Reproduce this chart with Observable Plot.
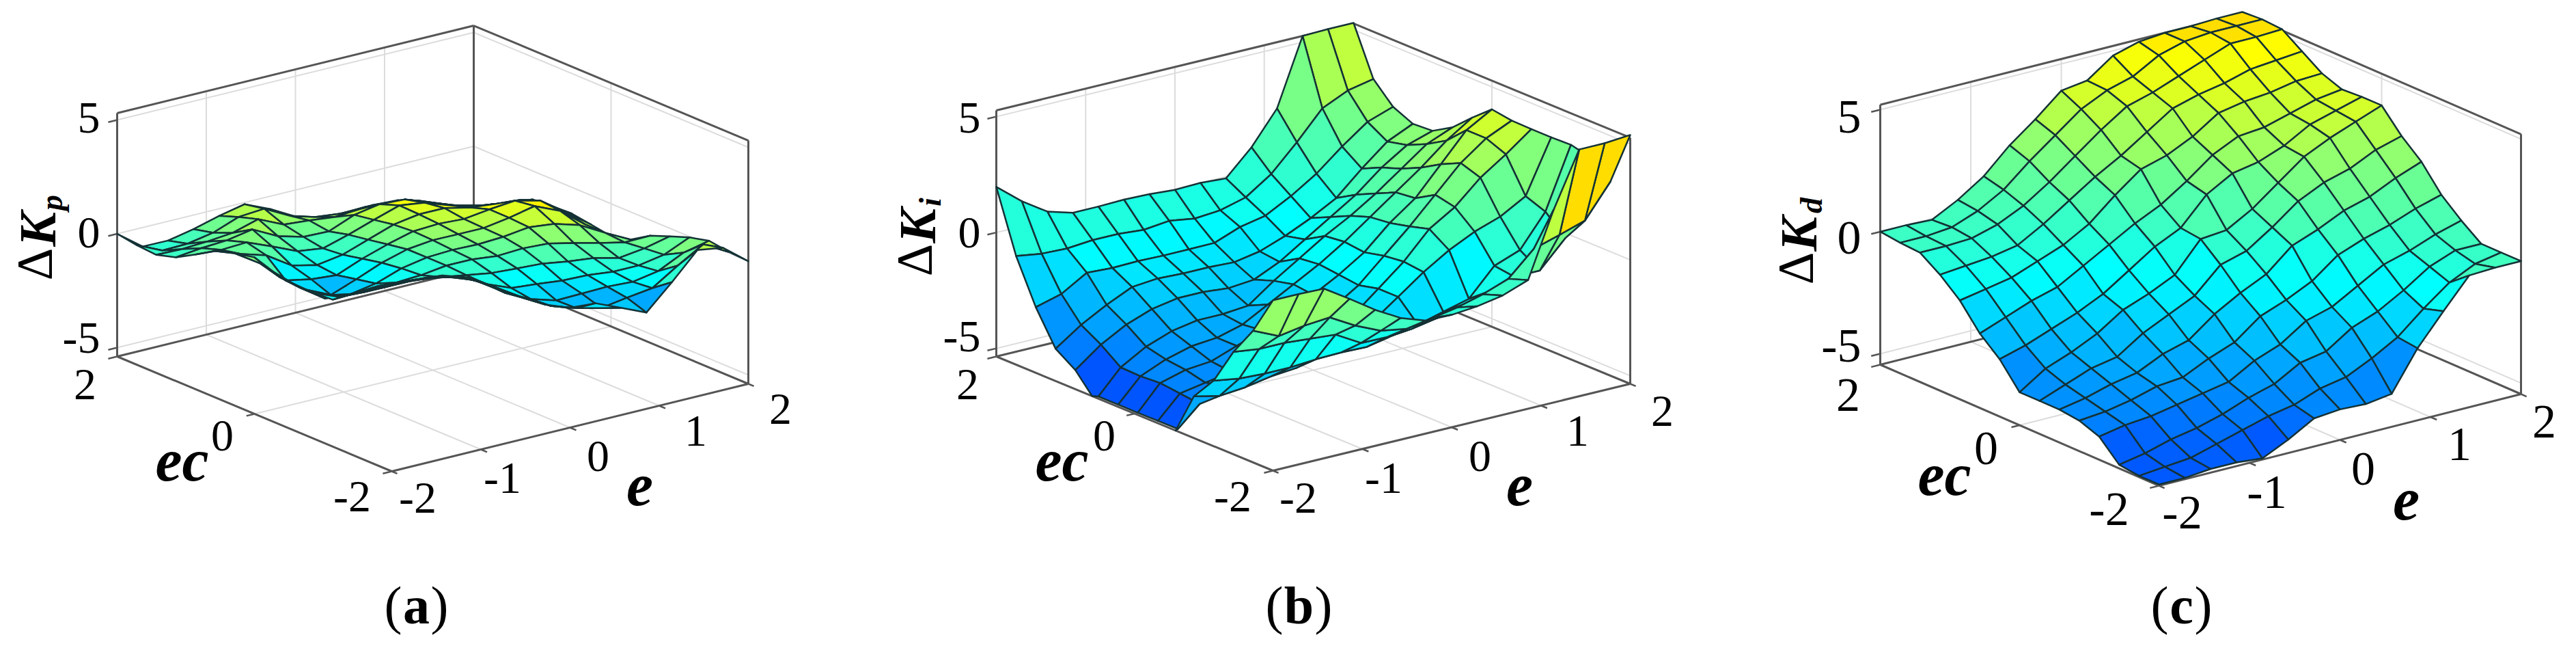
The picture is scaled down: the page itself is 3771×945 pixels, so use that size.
<!DOCTYPE html>
<html>
<head>
<meta charset="utf-8">
<style>html,body{margin:0;padding:0;background:#fff}svg{display:block}</style>
<script src="https://cdn.jsdelivr.net/npm/d3@7"></script>
<script src="https://cdn.jsdelivr.net/npm/@observablehq/plot@0.6"></script>
</head>
<body>
<script>
const eGrid = [-2,-1.714,-1.429,-1.143,-0.857,-0.571,-0.286,0,0.286,0.571,0.857,1.143,1.429,1.714,2];
const ecGrid = [-2,-1.714,-1.429,-1.143,-0.857,-0.571,-0.286,0,0.286,0.571,0.857,1.143,1.429,1.714,2];
const eTicks = [-2,-1,0,1,2];
const ecTicks = [-2,0,2];
const zTicks = [-5,0,5];

// rows run from ec = 2 (first) to ec = -2 (last); columns from e = -2 to e = 2
const kpRows = [
[0,-.64,-.46,-.04,.46,.89,.6,.19,.05,.19,.44,.57,.43,.21,0],
[-.33,-.65,-.43,-.03,.58,.86,.47,.33,.4,.62,.75,.73,.5,.26,.33],
[-.59,-.42,-.17,.13,.65,.33,.43,.5,.77,.93,1.0,.77,.54,.52,.58],
[-.53,-.21,.05,.45,.07,-.04,.12,.76,1.15,1.28,1.05,.85,.77,.8,.87],
[-.24,-.12,.13,-.13,-.42,-.38,.14,.71,1.26,1.3,1.1,.93,1.03,1.09,.71],
[.08,-.13,-.27,-.8,-.86,-.49,.09,.67,1.04,1.23,1.18,1.25,1.35,1.08,.58],
[.15,-.38,-1.21,-1.24,-1.14,-.5,.05,.54,.79,.92,1.26,1.56,1.48,.89,.26],
[.14,-.82,-1.44,-1.76,-1.15,-.51,0,.32,.5,.69,1.06,1.49,1.2,.51,-.08],
[-.35,-1.1,-1.66,-1.56,-1.17,-.59,-.19,.06,.22,.47,.81,.88,.74,.32,-.06],
[-.7,-1.29,-1.39,-1.16,-.97,-.72,-.38,-.19,-.12,.13,.26,.2,.12,.07,.28],
[-.92,-1.18,-1.05,-.84,-.68,-.64,-.63,-.62,-.5,-.37,-.36,-.29,-.37,-.03,.42],
[-1.05,-.8,-.68,-.49,-.39,-.44,-.85,-1.11,-1.02,-.95,-.79,-.72,-.53,-.14,.54],
[-.64,-.37,-.27,-.14,-.2,-.49,-1.08,-1.43,-1.57,-1.35,-1.13,-1.0,-.61,.12,.56],
[-.24,-.05,.05,.03,-.18,-.65,-1.15,-1.56,-1.74,-1.82,-1.45,-1.11,-.2,.65,.24],
[.14,.27,.35,.18,-.35,-.82,-1.25,-1.48,-1.36,-1.64,-1.93,-.68,.65,.67,0]
];
const kiRows = [
[1.97,1.08,.37,.05,.05,.08,.05,-.03,0,-.07,1.0,2.41,5.27,5.3,5.3],
[-.66,-.83,-.87,-.78,-.78,-.87,-.75,-.92,-.83,-.54,.2,1.3,2.5,3.0,3.23],
[-2.52,-2.22,-1.57,-1.63,-1.6,-1.63,-1.63,-1.62,-1.2,-.98,-.4,.3,1.2,2.0,2.38],
[-3.96,-3.2,-2.6,-2.1,-2.0,-2.05,-2.05,-2.1,-1.9,-1.5,-1.0,-.4,.6,1.5,2.0],
[-4.53,-3.7,-3.1,-2.7,-2.5,-2.5,-2.6,-2.5,-2.0,-1.3,-.6,.1,1.0,1.7,2.05],
[-5.5,-4.33,-3.7,-3.3,-3.1,-3.1,-3.0,-2.2,-1.5,-.8,-.2,.5,1.3,2.1,2.55],
[-5.5,-4.36,-3.9,-3.6,-3.5,-3.2,-2.6,-2.0,-1.4,-.7,.1,.9,1.7,2.6,3.32],
[-5.5,-4.3,-4.0,-3.9,-3.5,-3.1,-2.6,-2.1,-1.5,-.8,.2,1.0,2.2,3.4,4.03],
[-5.5,-4.4,-4.2,-4.0,-3.7,-3.5,-3.0,-2.3,-1.6,-.6,.4,1.5,2.6,3.4,3.9],
[-5.5,-4.5,-4.0,-3.8,-3.9,-3.4,-2.9,-2.3,-1.4,-.5,.64,1.32,2.32,3.06,3.88],
[-3.55,-3.8,-3.7,-3.5,-3.4,-3.1,-2.8,-2.2,-1.4,-.6,.08,.61,.99,1.61,3.88],
[-2.52,-2.7,-2.75,-2.75,-2.67,-2.64,-2.67,-2.45,-2.25,-1.96,-1.67,-.51,-.1,1.29,3.91],
[-.93,-1.07,-1.07,-1.16,-1.25,-1.88,-1.9,-1.8,-1.6,-1.3,-1.0,-.63,-.63,.5,3.7],
[.34,-.16,.02,.11,-.51,-1.0,-1.19,-1.0,-.8,-.5,-.1,.93,1.26,1.61,3.03],
[2.0,2.0,1.97,1.26,.52,-.1,-.48,-.5,-.4,-.2,.2,2.97,5.3,5.3,5.39]
];
const kdRows = [
[0,0,-.05,.5,1.2,2.2,3.0,3.9,4.05,4.8,5.1,5.2,5.2,5.25,5.25],
[-.1,-.1,0,.4,1.0,1.9,2.7,3.5,4.0,4.3,4.9,5.2,5.3,5.3,5.3],
[-.15,-.15,-.1,.2,.7,1.4,2.2,3.0,3.7,4.0,4.4,4.8,5.2,5.2,5.25],
[-.7,-.6,-.5,-.3,.3,1.0,1.7,2.3,3.0,3.7,4.0,4.2,4.5,4.6,4.7],
[-1.4,-1.2,-1,-.6,-.2,.4,1.3,2.1,2.4,2.9,3.6,3.8,3.9,4.1,4.15],
[-2.4,-2.0,-1.6,-1.3,-.7,-.1,.5,1.0,1.7,2.5,3.0,3.1,3.4,3.7,3.85],
[-3.1,-2.8,-2.4,-2,-1.5,-.8,-.1,.4,1.5,2.1,2.3,2.7,3.3,3.6,3.9],
[-4.1,-3.4,-3.0,-2.5,-1.8,-1.4,-.9,.3,.4,1.0,1.8,2.6,3.1,3.5,3.9],
[-4.1,-3.7,-3.3,-3.1,-2.4,-1.9,-1.4,-.4,-.1,.6,1.4,1.9,2.2,2.7,3.0],
[-4.1,-3.9,-3.6,-3.4,-2.9,-2.6,-1.8,-1.2,-.7,.2,.6,1.1,1.4,1.9,2.3],
[-4.2,-4.1,-3.9,-3.6,-3.5,-3.0,-2.6,-1.8,-1.4,-.9,-.1,.3,.6,1.0,1.3],
[-4.5,-4.3,-4.2,-4.0,-3.8,-3.6,-3.0,-2.6,-1.9,-1.6,-1.0,-.4,-.1,.3,.6],
[-5.3,-5.1,-4.8,-4.6,-4.3,-3.9,-3.6,-3.0,-2.8,-2.1,-1.7,-1.1,-.4,0,0],
[-5.4,-5.3,-5.2,-4.9,-4.6,-4.3,-4.1,-3.7,-3.5,-3.0,-2.4,-1.5,-.7,-.2,0],
[-5.4,-5.4,-5.3,-5.3,-5.4,-4.9,-4.3,-4.2,-4.25,-4.1,-2.5,-1.25,-.05,0,0]
];

const serif = "'Liberation Serif', serif";

// camera of each panel and where its lettering sits
const panels = [
 {key:"a", rows:kpRows, front:[573,689], eVec:[522,-128], ecVec:[-402,-168], k:33.3, zMin:-5.39, zMax:5.3, clipTop:5.3, tilt:2.7, cyan:-1.1, yellow:1.35,
  eLab:[[611,728],[735,699],[875,667],[1018,630],[1142,598]], ecLab:[[515,726],[325,637],[124,562]], zLab:[494,340,172], zAnchorX:146,
  sym:{d:[52,386],K:[56,335],s:[76,296],t:"p"}, ecName:[266,702], eName:[936,738], cap:[609,887], capHalf:21, digit:66},
 {key:"b", rows:kiRows, front:[1863,688], eVec:[523,-127], ecVec:[-405,-167], k:33.9, zMin:-5.35, zMax:5.27, clipTop:5.5, tilt:0, cyan:-1.5, yellow:4.5,
  eLab:[[1900,728],[2025,699],[2166,667],[2309,630],[2433,601]], ecLab:[[1804,726],[1616,637],[1416,562]], zLab:[492,340,172], zAnchorX:1435,
  sym:{d:[1340,380],K:[1344,330],s:[1362,295],t:"i"}, ecName:[1554,702], eName:[2224,738], cap:[1901,887], capHalf:23, digit:66},
 {key:"c", rows:kdRows, front:[3160,710], eVec:[530,-134], ecVec:[-408,-177], k:35.7, zMin:-5.45, zMax:5.2, clipTop:9, tilt:0, cyan:-1.5, yellow:4.5,
  eLab:[[3194,750],[3318,720],[3459,686],[3600,650],[3724,617]], ecLab:[[3087,745],[2907,656],[2705,578]], zLab:[506,348,171], zAnchorX:2724,
  sym:{d:[2630,392],K:[2634,342],s:[2652,300],t:"d"}, ecName:[2846,723], eName:[3522,759], cap:[3193,887], capHalf:19, digit:70}
];

function project(p, e, ec, z) {
  const u = (e + 2) / 4, v = (ec + 2) / 4;
  return [
    p.front[0] + u * p.eVec[0] + v * p.ecVec[0],
    p.front[1] + u * p.eVec[1] + v * p.ecVec[1] - (z - p.zMin) * p.k
  ];
}

function clipZ(poly, limit, keepBelow) {
  const inside = q => keepBelow ? q[2] <= limit : q[2] >= limit;
  const out = [];
  poly.forEach((a, n) => {
    const b = poly[(n + 1) % poly.length];
    if (inside(a)) out.push(a);
    if (inside(a) !== inside(b)) {
      const t = (limit - a[2]) / (b[2] - a[2]);
      out.push([a[0] + t * (b[0] - a[0]), a[1] + t * (b[1] - a[1]), limit]);
    }
  });
  return out;
}

const meshPts = [], links = [], gridLinks = [], tickLinks = [];
panels.forEach(p => {
  const P = (e, ec, z) => project(p, e, ec, z);
  const add = (arr, a, b) => arr.push({x1:a[0], y1:a[1], x2:b[0], y2:b[1]});
  zTicks.forEach(z => {
    add(gridLinks, P(-2,2,z), P(2,2,z));
    add(gridLinks, P(2,2,z), P(2,-2,z));
    add(tickLinks, P(-2,2,z), P(-2.1,2,z));
  });
  eTicks.slice(1,-1).forEach(e => {
    add(gridLinks, P(e,2,p.zMin), P(e,2,p.zMax));
    add(gridLinks, P(e,-2,p.zMin), P(e,2,p.zMin));
    add(tickLinks, P(e,-2,p.zMin), P(e,-2.09,p.zMin));
  });
  [0].forEach(ec => {
    add(gridLinks, P(2,ec,p.zMin), P(2,ec,p.zMax));
    add(gridLinks, P(-2,ec,p.zMin), P(2,ec,p.zMin));
    add(tickLinks, P(-2,ec,p.zMin), P(-2.09,ec,p.zMin));
  });
  [[-2,-2],[2,-2]].forEach(([e,ec]) => add(tickLinks, P(e,ec,p.zMin), P(e,ec-0.08,p.zMin)));
  add(tickLinks, P(-2,-2,p.zMin), P(-2.1,-2,p.zMin));
  add(tickLinks, P(-2,2,p.zMin), P(-2.1,2,p.zMin));
  const lo = p.zMin, hi = p.zMax;
  [[-2,2,lo,-2,2,hi],[2,2,lo,2,2,hi],[2,-2,lo,2,-2,hi],
   [-2,2,hi,2,2,hi],[2,2,hi,2,-2,hi],
   [-2,2,lo,2,2,lo],[2,2,lo,2,-2,lo],[-2,2,lo,-2,-2,lo],[-2,-2,lo,2,-2,lo]]
   .forEach(s => add(links, P(s[0],s[1],s[2]), P(s[3],s[4],s[5])));
  const node = (i, j) => p.rows[14 - j][i];
  const shown = (i, j) => node(i, j) - p.tilt * (i + j - 14) / 14;
  for (let j = 13; j >= 0; j--) for (let i = 13; i >= 0; i--) {
    const id = `${p.key}-${i}-${j}`;
    const tone = (node(i, j) - p.cyan) / (p.yellow - p.cyan);
    let poly = [[i,j],[i+1,j],[i+1,j+1],[i,j+1]].map(([a,b]) => [eGrid[a], ecGrid[b], shown(a,b)]);
    poly = clipZ(clipZ(poly, p.zMin, false), p.clipTop, true);
    poly.forEach(q => {
      const [px, py] = P(q[0], q[1], q[2]);
      meshPts.push({id, px, py, tone});
    });
  }
});

const digits = [];
panels.forEach(p => {
  eTicks.forEach((t, n) => digits.push({t:String(t), x:p.eLab[n][0], y:p.eLab[n][1], size:p.digit, anchor:"middle"}));
  ecTicks.forEach((t, n) => digits.push({t:String(t), x:p.ecLab[n][0], y:p.ecLab[n][1], size:p.digit, anchor:"middle"}));
  zTicks.forEach((t, n) => digits.push({t:String(t), x:p.zAnchorX, y:p.zLab[n], size:p.digit, anchor:"end"}));
});
const T = (data, x, y, o) => Plot.text(data, {x, y, fontFamily:serif, fill:"#000", ...o});

const plot = Plot.plot({
  width: 3771, height: 945, margin: 0,
  style: {background:"#fff"},
  x: {domain:[0,3771], range:[0,3771], axis:null},
  y: {domain:[0,945], range:[0,945], axis:null},
  color: {type:"linear", domain:[-1,0,1,2], range:["#0000ff","#00ffff","#ffff00","#ff0000"], interpolate:"rgb", clamp:true},
  marks: [
    Plot.link(gridLinks, {x1:"x1", y1:"y1", x2:"x2", y2:"y2", stroke:"#dcdcdc", strokeWidth:2}),
    Plot.link(links, {x1:"x1", y1:"y1", x2:"x2", y2:"y2", stroke:"#555", strokeWidth:3}),
    Plot.link(tickLinks, {x1:"x1", y1:"y1", x2:"x2", y2:"y2", stroke:"#555", strokeWidth:2.5}),
    Plot.line(meshPts, {x:"px", y:"py", z:"id", fill:"tone", stroke:"#143236", strokeWidth:2.5, strokeLinejoin:"round", curve:"linear-closed"}),
    ...[66,70].map(s => T(digits.filter(d => d.size === s && d.anchor === "middle"), "x", "y", {text:"t", fontSize:s})),
    ...[66,70].map(s => T(digits.filter(d => d.size === s && d.anchor === "end"), "x", "y", {text:"t", fontSize:s, textAnchor:"end"})),
    ...panels.flatMap(p => [
      T([p], d => d.sym.d[0], d => d.sym.d[1], {text:() => "Δ", fontSize:74, rotate:-90}),
      T([p], d => d.sym.K[0], d => d.sym.K[1], {text:() => "K", fontSize:76, rotate:-90, fontWeight:"bold", fontStyle:"italic"}),
      T([p], d => d.sym.s[0], d => d.sym.s[1], {text:d => d.sym.t, fontSize:46, rotate:-90, fontWeight:"bold", fontStyle:"italic"}),
      T([p], d => d.ecName[0], d => d.ecName[1], {text:() => "ec", fontSize:88, fontWeight:"bold", fontStyle:"italic", lineAnchor:"bottom"}),
      T([p], d => d.eName[0], d => d.eName[1], {text:() => "e", fontSize:88, fontWeight:"bold", fontStyle:"italic", lineAnchor:"bottom"}),
      T([p], d => d.cap[0] - d.capHalf, d => d.cap[1], {text:() => "(", fontSize:78, textAnchor:"end"}),
      T([p], d => d.cap[0], d => d.cap[1], {text:d => d.key, fontSize:78, fontWeight:"bold"}),
      T([p], d => d.cap[0] + d.capHalf, d => d.cap[1], {text:() => ")", fontSize:78, textAnchor:"start"})
    ])
  ]
});
document.body.appendChild(plot);
</script>
</body>
</html>
